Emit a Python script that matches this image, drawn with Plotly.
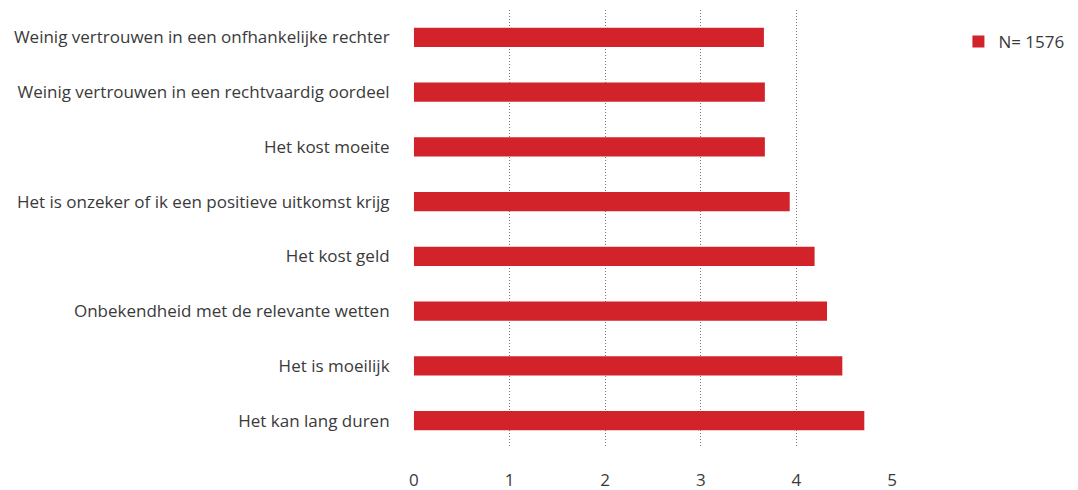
import plotly.graph_objects as go

categories = [
    "Weinig vertrouwen in een onfhankelijke rechter",
    "Weinig vertrouwen in een rechtvaardig oordeel",
    "Het kost moeite",
    "Het is onzeker of ik een positieve uitkomst krijg",
    "Het kost geld",
    "Onbekendheid met de relevante wetten",
    "Het is moeilijk",
    "Het kan lang duren",
]
values = [3.66, 3.67, 3.67, 3.93, 4.19, 4.32, 4.48, 4.71]
series_name = "N= 1576"
x_ticks = [0, 1, 2, 3, 4, 5]

fig = go.Figure()
fig.add_trace(go.Bar(
    y=categories, x=values, orientation="h", name=series_name,
    marker=dict(color="#D2232B", line=dict(width=0)),
    width=0.35, showlegend=True,
))

OFF = 8  # page body margin
W, H = 1078 - OFF, 490 - OFF
x0px, x5px = 413.5 - OFF, 892.5 - OFF
unit = (x5px - x0px) / 5
pad_u = 0.01
L = x0px - pad_u * unit
Rpx = x5px + pad_u * unit
T, Bpx = 10 - OFF, 448 - OFF
fig.update_layout(
    width=W, height=H,
    margin=dict(l=L, r=W - Rpx, t=T, b=H - Bpx, pad=0, autoexpand=False),
    paper_bgcolor="white", plot_bgcolor="white",
    font=dict(family="Open Sans", size=17, color="#3a3a3a"),
    showlegend=True,
    legend=dict(x=(959 - OFF - L) / (Rpx - L), y=(Bpx - (42 - OFF)) / (Bpx - T),
                xanchor="left", yanchor="middle",
                font=dict(size=17, color="#3a3a3a"),
                itemwidth=30, bgcolor="rgba(0,0,0,0)"),
    xaxis=dict(range=[-pad_u, 5 + pad_u], tickvals=x_ticks, showgrid=True,
               gridcolor="#777", griddash="1px,2px", gridwidth=1,
               zeroline=False, showline=False,
               ticks="outside", ticklen=0, ticklabelstandoff=17,
               tickfont=dict(size=17, color="#3a3a3a")),
    yaxis=dict(autorange="reversed", categoryorder="array", categoryarray=categories,
               showgrid=False, zeroline=False, showline=False,
               ticks="outside", ticklen=0, ticklabelstandoff=19,
               tickfont=dict(size=17, color="#3a3a3a")),
)
fig.write_html("out.html")
